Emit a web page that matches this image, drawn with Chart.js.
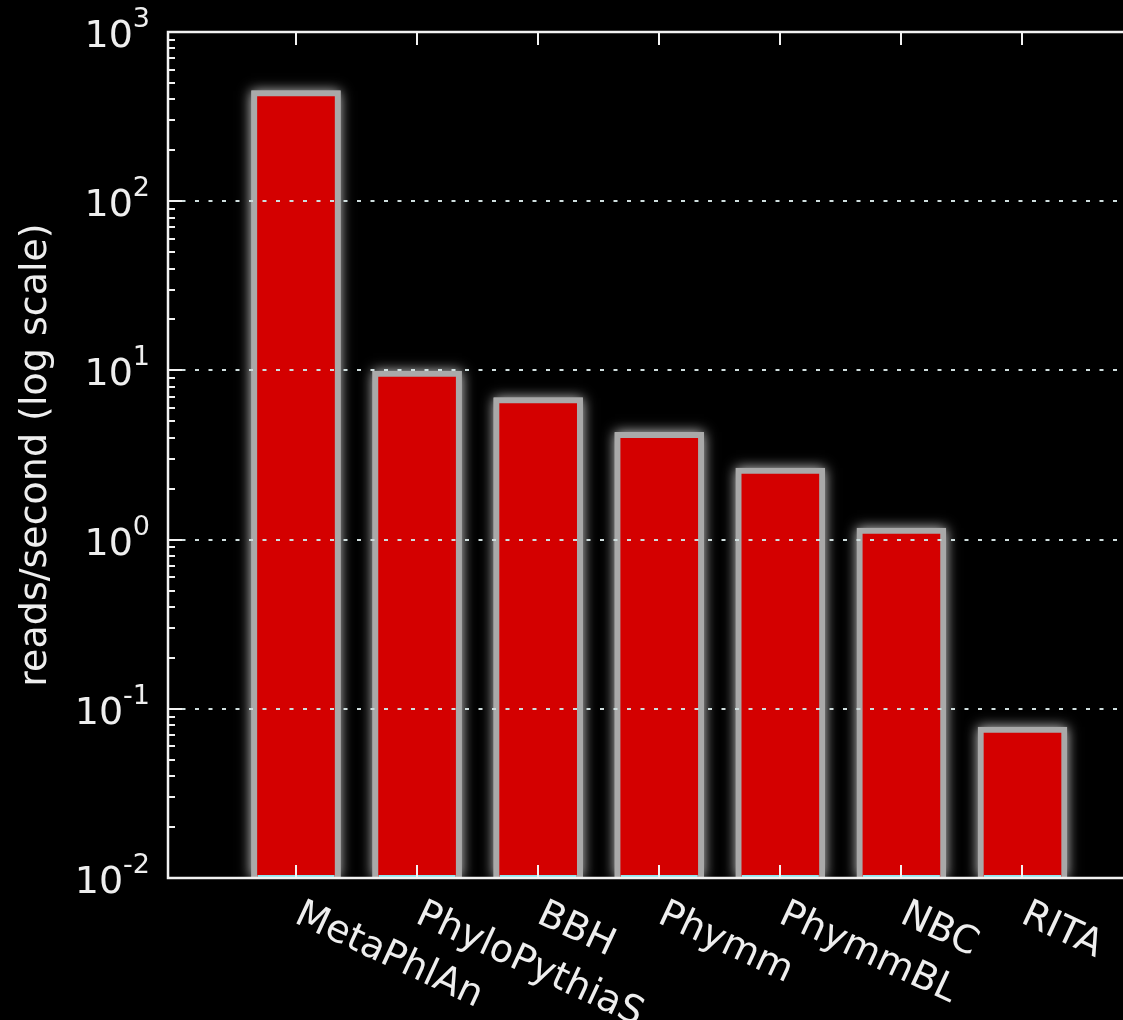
<!DOCTYPE html>
<html>
<head>
<meta charset="utf-8">
<script src="https://cdn.jsdelivr.net/npm/chart.js@4.4.0/dist/chart.umd.min.js"></script>
<style>
  html, body { margin: 0; padding: 0; background: #000; overflow: hidden; }
  #wrap { position: relative; width: 1123px; height: 1020px; }
</style>
</head>
<body>
<div id="wrap"><canvas id="c"></canvas></div>
<script>
// ── 데이터 ──────────────────────────────────────────────────────────────
const methods = ['MetaPhlAn', 'PhyloPythiaS', 'BBH', 'Phymm', 'PhymmBL', 'NBC', 'RITA'];
const readsPerSec = [450, 9.9, 6.9, 4.3, 2.65, 1.17, 0.078];
const decades = [-2, -1, 0, 1, 2, 3];
const yTitle = 'reads/second (log scale)';

const FONT = '"DejaVu Sans", sans-serif';
const INK = '#eeeeee';

// ── 축, 눈금, 라벨 (matplotlib 스타일) ───────────────────────────────────
const frame = {
  id: 'frame',
  beforeDatasetsDraw(chart) {
    // 막대 주변 글로우: 막대 요소 위치를 그대로 사용
    const { ctx, chartArea: a } = chart;
    const meta = chart.getDatasetMeta(0);
    ctx.save();
    ctx.beginPath();
    ctx.rect(a.left, a.top - 30, a.right - a.left, a.bottom - a.top + 30);
    ctx.clip();
    ctx.shadowColor = 'rgba(235,235,235,0.9)';
    ctx.shadowBlur = 12;
    ctx.fillStyle = '#a9a9a9';
    meta.data.forEach(bar => {
      const { x, y, base, width } = bar.getProps(['x', 'y', 'base', 'width'], true);
      ctx.fillRect(x - width / 2, y, width, base - y);
    });
    ctx.restore();
  },
  afterDatasetsDraw(chart) {
    const { ctx, chartArea: a, scales: { y } } = chart;
    const meta = chart.getDatasetMeta(0);
    ctx.save();
    // 막대 아래쪽 가장자리 (옅은 청록 선)
    ctx.strokeStyle = '#8ee6ee';
    ctx.lineWidth = 2;
    meta.data.forEach(bar => {
      const { x, base, width } = bar.getProps(['x', 'base', 'width'], true);
      ctx.beginPath();
      ctx.moveTo(x - width / 2 + 6, base - 2);
      ctx.lineTo(x + width / 2 - 6, base - 2);
      ctx.stroke();
    });
    // 점선 그리드 (막대 위에 그려짐)
    ctx.strokeStyle = '#cfdede';
    ctx.setLineDash([4, 9.5]);
    decades.slice(1, -1).forEach(d => {
      const py = Math.round(y.getPixelForValue(Math.pow(10, d)));
      ctx.beginPath();
      ctx.moveTo(a.left, py);
      ctx.lineTo(a.right, py);
      ctx.stroke();
    });
    ctx.restore();
  },
  afterDraw(chart) {
    const { ctx, chartArea: a, scales: { x, y } } = chart;
    ctx.save();
    ctx.strokeStyle = '#f2f2f2';
    ctx.lineWidth = 2.5;
    ctx.beginPath();
    ctx.moveTo(a.right, a.top);
    ctx.lineTo(a.left, a.top);
    ctx.lineTo(a.left, a.bottom);
    ctx.lineTo(a.right, a.bottom);
    ctx.stroke();

    // x 눈금 (안쪽, 위/아래)
    ctx.lineWidth = 2;
    methods.forEach((m, i) => {
      const px = Math.round(x.getPixelForValue(i + 1));
      ctx.beginPath();
      ctx.moveTo(px, a.bottom); ctx.lineTo(px, a.bottom - 13);
      ctx.moveTo(px, a.top); ctx.lineTo(px, a.top + 13);
      ctx.stroke();
    });

    // y 눈금 (주/보조)
    decades.forEach(d => {
      const py = Math.round(y.getPixelForValue(Math.pow(10, d)));
      ctx.beginPath();
      ctx.moveTo(a.left, py); ctx.lineTo(a.left + 14, py);
      ctx.stroke();
      if (d < decades[decades.length - 1]) {
        for (let k = 2; k <= 9; k++) {
          const pm = Math.round(y.getPixelForValue(k * Math.pow(10, d)));
          ctx.beginPath();
          ctx.moveTo(a.left, pm); ctx.lineTo(a.left + 7, pm);
          ctx.stroke();
        }
      }
    });

    // y 눈금 라벨 10^n
    ctx.fillStyle = INK;
    ctx.textBaseline = 'alphabetic';
    ctx.textAlign = 'right';
    decades.forEach(d => {
      const py = y.getPixelForValue(Math.pow(10, d));
      const exp = String(d);
      ctx.font = '27px ' + FONT;
      const ew = ctx.measureText(exp).width;
      ctx.fillText(exp, 150, py - 5);
      ctx.font = '38px ' + FONT;
      ctx.fillText('10', 150 - ew, py + 15);
    });

    // x 라벨 (시계방향 회전)
    ctx.font = '38px ' + FONT;
    ctx.textAlign = 'left';
    methods.forEach((m, i) => {
      const px = x.getPixelForValue(i + 1);
      ctx.save();
      ctx.translate(px - 3, a.bottom + 44);
      ctx.rotate(25 * Math.PI / 180);
      ctx.fillText(m, 0, 0);
      ctx.restore();
    });

    // y 축 제목
    ctx.save();
    ctx.translate(46, (a.top + a.bottom) / 2);
    ctx.rotate(-Math.PI / 2);
    ctx.textAlign = 'center';
    ctx.fillText(yTitle, 0, 0);
    ctx.restore();

    ctx.restore();
  }
};

new Chart(document.getElementById('c'), {
  type: 'bar',
  data: {
    datasets: [{
      data: readsPerSec.map((v, i) => ({ x: i + 1, y: v })),
      backgroundColor: '#d40000',
      borderColor: '#a9a9a9',
      borderWidth: 6,
      barThickness: 89
    }]
  },
  options: {
    responsive: true,
    maintainAspectRatio: false,
    animation: false,
    layout: { padding: { left: 168, top: 32, right: 0, bottom: 142 } },
    plugins: { legend: { display: false }, tooltip: { enabled: false } },
    scales: {
      x: { type: 'linear', offset: false, min: -0.057, max: 7.83, display: false },
      y: { type: 'logarithmic', min: 0.01, max: 1000, display: false }
    }
  },
  plugins: [frame]
});
</script>
</body>
</html>
